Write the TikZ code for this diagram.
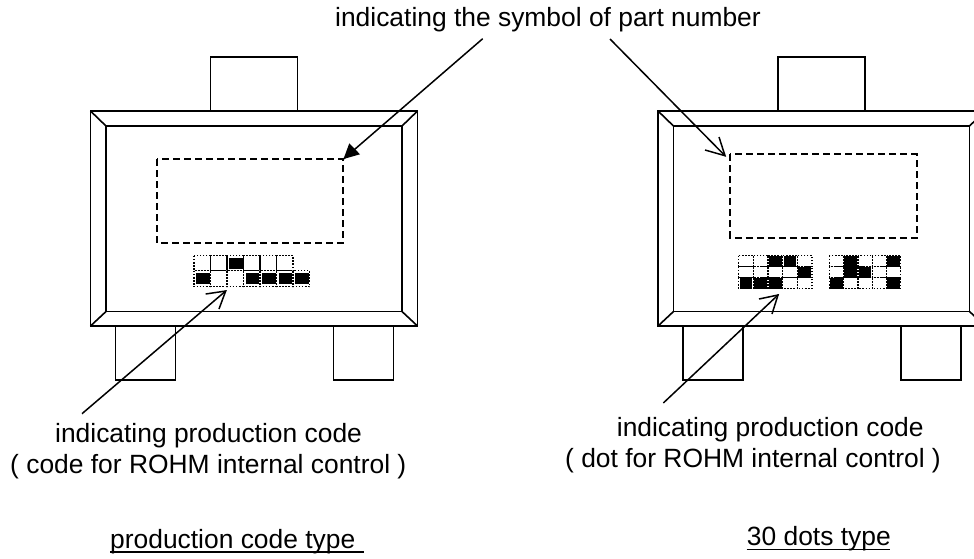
\documentclass[tikz,border=0pt]{standalone}
\usepackage{fontspec}
\setmainfont{Liberation Sans}
\tikzset{
  ln/.style={draw=black,line width=1.6pt,line join=miter},
  dsh/.style={draw=black,line width=1.7pt,dash pattern=on 7pt off 4pt},
  dot/.style={draw=black,line width=1.3pt,dash pattern=on 1.6pt off 1.5pt},
  lbl/.style={anchor=base west,inner sep=0pt,font=\fontsize{26.4}{30}\selectfont,text=black},
  ptr/.style={draw=black,line width=1.5pt},
  ulin/.style={draw=black,line width=1.2pt}
}
\newcommand{\pkgbody}[1]{%
 \begin{scope}[shift={(#1,0)}]
  \draw[ln] (120,57) rectangle (207,111);
  \draw[ln] (25,326) rectangle (85,380);
  \draw[ln] (243,326) rectangle (303,380);
  \draw[ln,fill=white] (0,111) rectangle (327,326);
  \draw[ln] (15.5,126) rectangle (311.5,311.5);
  \draw[ln] (0,111) -- (15.5,126) (327,111) -- (311.5,126) (0,326) -- (15.5,311.5) (327,326) -- (311.5,311.5);
 \end{scope}}
\begin{document}
\begin{tikzpicture}[x=1pt,y=-1pt]
\useasboundingbox (0,0) rectangle (974,558);
\clip (0,0) rectangle (974,558);
\pkgbody{90.5}
\pkgbody{658}
% marking areas
\draw[dsh] (157.3,159.3) rectangle (343,243.3);
\draw[dsh] (730.3,154.3) rectangle (916.7,237.7);
% production code cells, left
\foreach \c in {0,...,5} \draw[dot] (194+16.5*\c,255.7) rectangle ++(16.5,15);
\foreach \c in {0,...,6} \draw[dot] (194+16.5*\c,270.7) rectangle ++(16.5,16);
\fill (194+16.5*2+2,258.3) rectangle ++(13.5,11);
\foreach \c in {0,3,4,5,6} \fill (194+16.5*\c+2,273.3) rectangle ++(13.5,10.7);
% 30 dots
\foreach \r in {0,1,2}{
 \foreach \c in {0,...,4}{
  \draw[dot] (738.7+14.67*\c,255.7+11*\r) rectangle ++(14.67,11);
  \draw[dot] (829.3+14.3*\c,255.7+11*\r) rectangle ++(14.3,11);
 }}
\foreach \c/\r in {2/0,3/0,4/1,0/2,1/2,2/2} \fill (738.7+14.67*\c+1,255.7+11*\r+0.5) rectangle ++(12.5,10.5);
\foreach \c/\r in {1/0,4/0,1/1,2/1,0/2,4/2} \fill (829.3+14.3*\c+0.8,255.7+11*\r+0.5) rectangle ++(12.5,10.5);
% labels
\node[lbl] (top) at (335,26.7) {indicating the symbol of part number};
\node[lbl] (la) at (55,442.7) {indicating production code};
\node[lbl] (lb) at (10,473) {( code for ROHM internal control )};
\node[lbl] (lc) at (110,548) {production code type};
\node[lbl] (ra) at (616.7,436.7) {indicating production code};
\node[lbl] (rb) at (565,467) {( dot for ROHM internal control )};
\node[lbl] (rc) at (746.7,545.7) {30 dots type};
\coordinate (lu0) at (110,552); \coordinate (lu1) at (364,552);
\coordinate (ru0) at (746.7,549.5); \coordinate (ru1) at (889.5,549.5);
\draw[ulin] (lu0) -- (lu1);
\draw[ulin] (ru0) -- (ru1);
% arrows
\coordinate (a1s) at (482.7,38.7); \coordinate (a1e) at (343.5,159);
\coordinate (a1l) at (360,154.3); \coordinate (a1r) at (349.3,143.3);
\coordinate (a2s) at (610,39); \coordinate (a2e) at (725,155.7);
\coordinate (a2l) at (719,137); \coordinate (a2r) at (705,150);
\coordinate (a3s) at (82,413.7); \coordinate (a3e) at (225.7,291);
\coordinate (a3l) at (205.7,294); \coordinate (a3r) at (219,309);
\coordinate (a4s) at (663.3,403); \coordinate (a4e) at (778,295);
\coordinate (a4l) at (759,299); \coordinate (a4r) at (772,314);
\draw[ptr] (a1s) -- (a1e);
\fill (a1e) -- (a1l) -- (a1r) -- cycle;
\draw[ptr] (a2s) -- (a2e);
\draw[ptr] (a2l) -- (a2e) -- (a2r);
\draw[ptr] (a3s) -- (a3e);
\draw[ptr] (a3l) -- (a3e) -- (a3r);
\draw[ptr] (a4s) -- (a4e);
\draw[ptr] (a4l) -- (a4e) -- (a4r);
\end{tikzpicture}
\end{document}
